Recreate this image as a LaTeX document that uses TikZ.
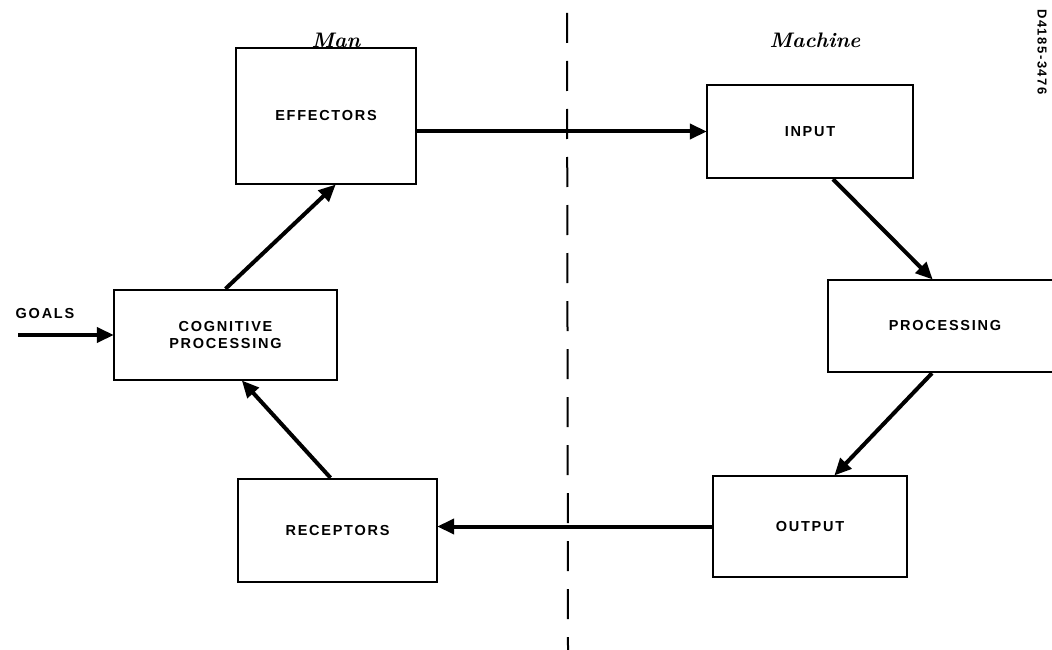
\documentclass[tikz,border=0pt]{standalone}
\usepackage{fontspec}
\usetikzlibrary{arrows.meta,calc}
\newfontfamily\labfont[LetterSpace=12]{Liberation Sans}
\tikzset{
  box/.style={draw, line width=2.4pt, rectangle, inner sep=0pt, font=\labfont\bfseries\fontsize{14.5}{17}\selectfont, align=center},
  flow/.style={line width=4pt, -{Triangle[length=17pt,width=15pt]}, shorten >=-1pt},
  divider/.style={line width=2pt, dash pattern=on 30pt off 18pt},
  side/.style={font=\bfseries\itshape\fontsize{21}{24}\selectfont},
}
\begin{document}
\begin{tikzpicture}[x=1pt,y=-1pt]
\clip (0,0) rectangle (1052,650);
\fill[white] (0,0) rectangle (1052,650);
% divider
\coordinate (dtop) at (567,13);
\coordinate (dbot) at (568,650);
\draw[divider] (dtop) -- (dbot);
% side labels
\node[side] (man) at (336,40) {Man};
\node[side] (machine) at (815,40) {Machine};
% boxes
\node[box, minimum width=180pt, minimum height=136pt] (eff) at (326,116) {EFFECTORS};
\node[box, minimum width=223pt, minimum height=90pt] (cog) at (225.5,335) {COGNITIVE\\PROCESSING};
\node[box, minimum width=199pt, minimum height=103pt] (rec) at (337.5,530.5) {RECEPTORS};
\node[box, minimum width=206pt, minimum height=93pt] (inp) at (810,131.5) {INPUT};
\node[box, minimum width=234pt, minimum height=92pt] (proc) at (945,326) {PROCESSING};
\node[box, minimum width=194pt, minimum height=101pt] (outp) at (810,526.5) {OUTPUT};
% goals
\node[font=\labfont\bfseries\fontsize{14.5}{17}\selectfont] (goals) at (45,314) {GOALS};
\coordinate (gstart) at (18,335);
\draw[flow] (gstart) -- (cog.west);
% connectors
\draw[flow] (cog.north) -- ($(eff.south)+(9,0)$);
\draw[flow] (eff.east |- inp.west) -- (inp.west);
\draw[flow] ($(inp.south)+(23,0)$) -- ($(proc.north)+(-13,0)$);
\draw[flow] ($(proc.south)+(-13,0)$) -- ($(outp.north)+(25,0)$);
\draw[flow] (outp.west) -- (rec.east |- outp.west);
\draw[flow] ($(rec.north)+(-7,0)$) -- ($(cog.south)+(17,0)$);
% code
\node[rotate=-90, font=\labfont\bfseries\fontsize{13}{15}\selectfont] (code) at (1042,52) {D4185-3476};
\end{tikzpicture}
\end{document}
